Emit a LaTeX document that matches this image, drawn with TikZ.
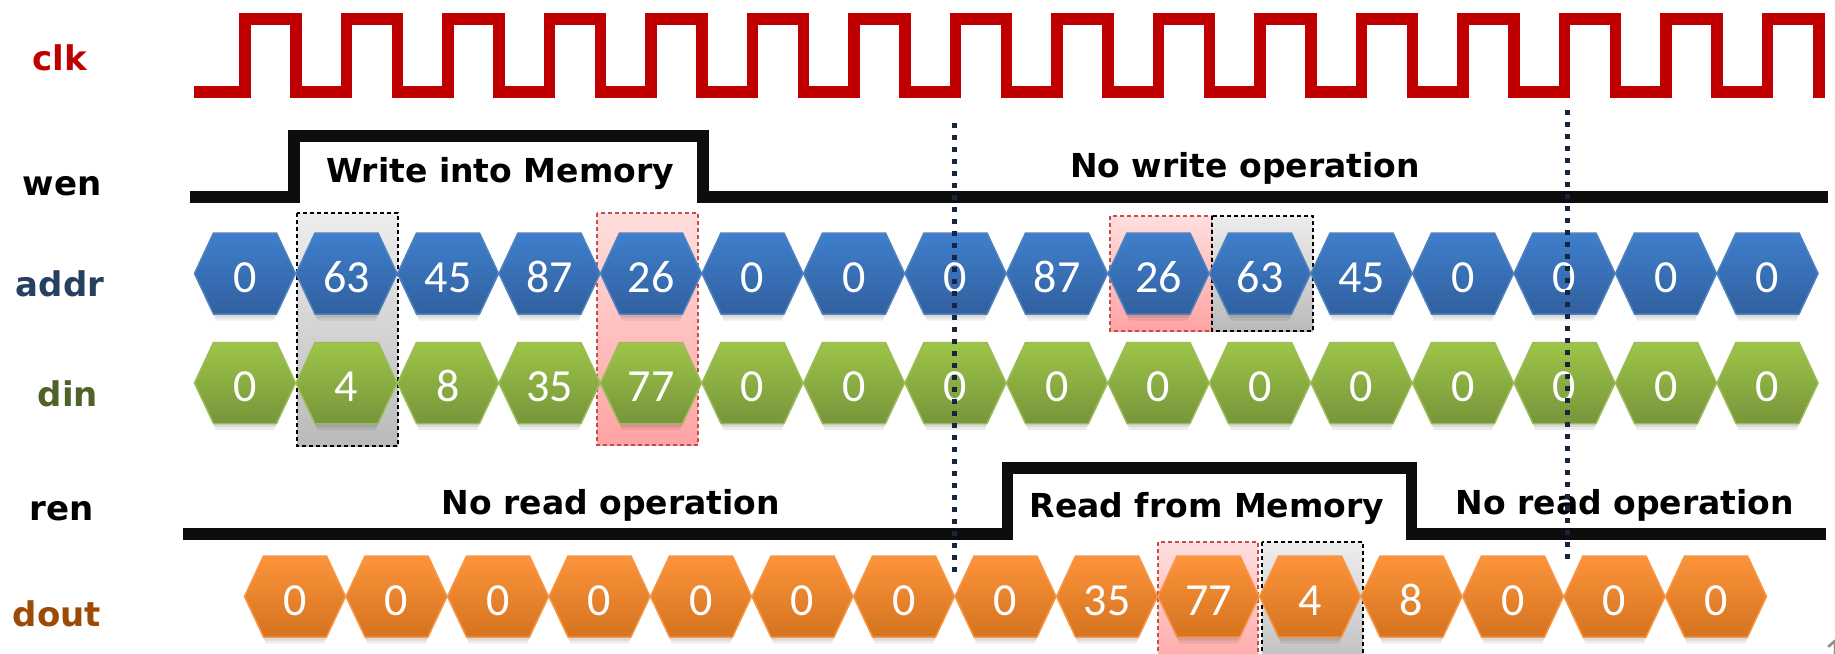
\documentclass[tikz,border=0pt]{standalone}
\usepackage{fontspec}
\setmainfont{DejaVu Sans}
\newfontfamily\numfont{Carlito}
\definecolor{clkred}{HTML}{C00000}
\definecolor{sigblack}{HTML}{0D0D0D}
\definecolor{dotnavy}{HTML}{17263F}
\definecolor{addrlab}{HTML}{254061}
\definecolor{dinlab}{HTML}{4F6228}
\definecolor{doutlab}{HTML}{9C4A06}
\definecolor{bluetop}{HTML}{3F7FCC}
\definecolor{bluebot}{HTML}{31609F}
\definecolor{blueedge}{HTML}{4F81BD}
\definecolor{greentop}{HTML}{9DC548}
\definecolor{greenbot}{HTML}{77953B}
\definecolor{greenedge}{HTML}{9BBB59}
\definecolor{orangetop}{HTML}{FC943B}
\definecolor{orangebot}{HTML}{D5731F}
\definecolor{orangeedge}{HTML}{F79646}
\definecolor{redboxedge}{HTML}{C0504D}
\tikzset{
  sigline/.style={line width=11.5pt, line join=miter},
  clkline/.style={sigline, draw=clkred},
  ctlline/.style={sigline, draw=sigblack},
  marker/.style={draw=dotnavy, line width=5pt, dash pattern=on 5pt off 7pt},
  rowlabel/.style={font=\fontsize{34}{40}\selectfont\bfseries, anchor=base},
  optext/.style={font=\fontsize{33}{40}\selectfont\bfseries, text=black, anchor=base, inner sep=0pt},
  hexnum/.style={font=\numfont\fontsize{46}{50}\selectfont, text=white, anchor=base, inner sep=0pt},
  addrhex/.style={top color=bluetop, bottom color=bluebot, draw=blueedge, line width=1.5pt},
  dinhex/.style={top color=greentop, bottom color=greenbot, draw=greenedge, line width=1.5pt},
  douthex/.style={top color=orangetop, bottom color=orangebot, draw=orangeedge, line width=1.5pt},
  graybox/.style={top color=black!7, bottom color=black!27, draw=black, line width=1.6pt, dash pattern=on 4pt off 3pt},
  redbox/.style={top color=red!13, bottom color=red!36, draw=redboxedge, line width=1.6pt, dash pattern=on 4pt off 3pt},
  pics/hexcell/.style n args={3}{code={
    \fill[black, opacity=0.07] (-47,7) -- (-29,-33) -- (29,-33) -- (47,7) -- (29,47) -- (-29,47) -- cycle;
    \fill[black, opacity=0.08] (-48,4) -- (-30,-36) -- (30,-36) -- (48,4) -- (30,44) -- (-30,44) -- cycle;
    \path[#1] (-50.5,0) -- (-31.5,-40.5) -- (31.5,-40.5) -- (50.5,0) -- (31.5,40.5) -- (-31.5,40.5) -- cycle;
    \node[hexnum] (#2) at (0,18.5) {#3};
  }}
}
\begin{document}
\begin{tikzpicture}[x=1pt, y=-1pt]
\useasboundingbox (0,0) rectangle (1835,653);
\clip (0,0) rectangle (1835,653);
\fill[white] (0,0) rectangle (1835,653);

% row labels
\node[rowlabel, text=clkred] (lclk) at (60,70) {clk};
\node[rowlabel, text=black] (lwen) at (62,195) {wen};
\node[rowlabel, text=addrlab] (laddr) at (60,296) {addr};
\node[rowlabel, text=dinlab] (ldin) at (68,406) {din};
\node[rowlabel, text=black] (lren) at (62,520) {ren};
\node[rowlabel, text=doutlab] (ldout) at (57,626) {dout};

% clock
\draw[clkline] (194,92)
  foreach \k in {0,...,14} { -- ({245+101.5*\k},92) -- ({245+101.5*\k},19) -- ({295.75+101.5*\k},19) -- ({295.75+101.5*\k},92) }
  -- (1767.5,92) -- (1767.5,19) -- (1819,19) -- (1819,97.75);

% wen and ren
\draw[ctlline] (190,197) -- (294,197) -- (294,136) -- (703,136) -- (703,197) -- (1828,197);
\draw[ctlline] (183,534) -- (1007.5,534) -- (1007.5,468) -- (1411.5,468) -- (1411.5,534) -- (1826,534);

% operation texts
\node[optext] (wtxt) at (500,182) {Write into Memory};
\node[optext] (nwtxt) at (1245,177) {No write operation};
\node[optext] (nrtxta) at (611,514) {No read operation};
\node[optext] (rtxt) at (1207,517) {Read from Memory};
\node[optext] (nrtxtb) at (1625,514) {No read operation};

% highlight boxes
\path[graybox] (297,213) rectangle (398,446);
\path[redbox] (597,213) rectangle (698,445);
\path[redbox] (1110,216) rectangle (1212,331);
\path[graybox] (1212,216) rectangle (1313,331);
\path[redbox] (1158,542) rectangle (1258,680);
\path[graybox] (1262,542) rectangle (1363,680);

% data rows
\foreach \v [count=\i from 0] in {0,63,45,87,26,0,0,0,87,26,63,45,0,0,0,0} {
  \pic at ({245+101.5*\i},273.5) {hexcell={addrhex}{a\i}{\v}};
}
\foreach \v [count=\i from 0] in {0,4,8,35,77,0,0,0,0,0,0,0,0,0,0,0} {
  \pic at ({245+101.5*\i},383) {hexcell={dinhex}{d\i}{\v}};
}
\foreach \v [count=\i from 0] in {0,0,0,0,0,0,0,0,35,77,4,8,0,0,0} {
  \pic at ({295+101.5*\i},596.5) {hexcell={douthex}{o\i}{\v}};
}

% dotted markers
\coordinate (mAtop) at (954.5,123);
\coordinate (mAbot) at (954.5,573);
\coordinate (mBtop) at (1567,110);
\coordinate (mBbot) at (1567,560);
\draw[marker] (mAtop) -- (mAbot);
\draw[marker] (mBtop) -- (mBbot);

% page number fragment
\node[font=\numfont\fontsize{38}{40}\selectfont, text=black!45, anchor=base west, inner sep=0pt] (pg) at (1824,664) {1};
\end{tikzpicture}
\end{document}
